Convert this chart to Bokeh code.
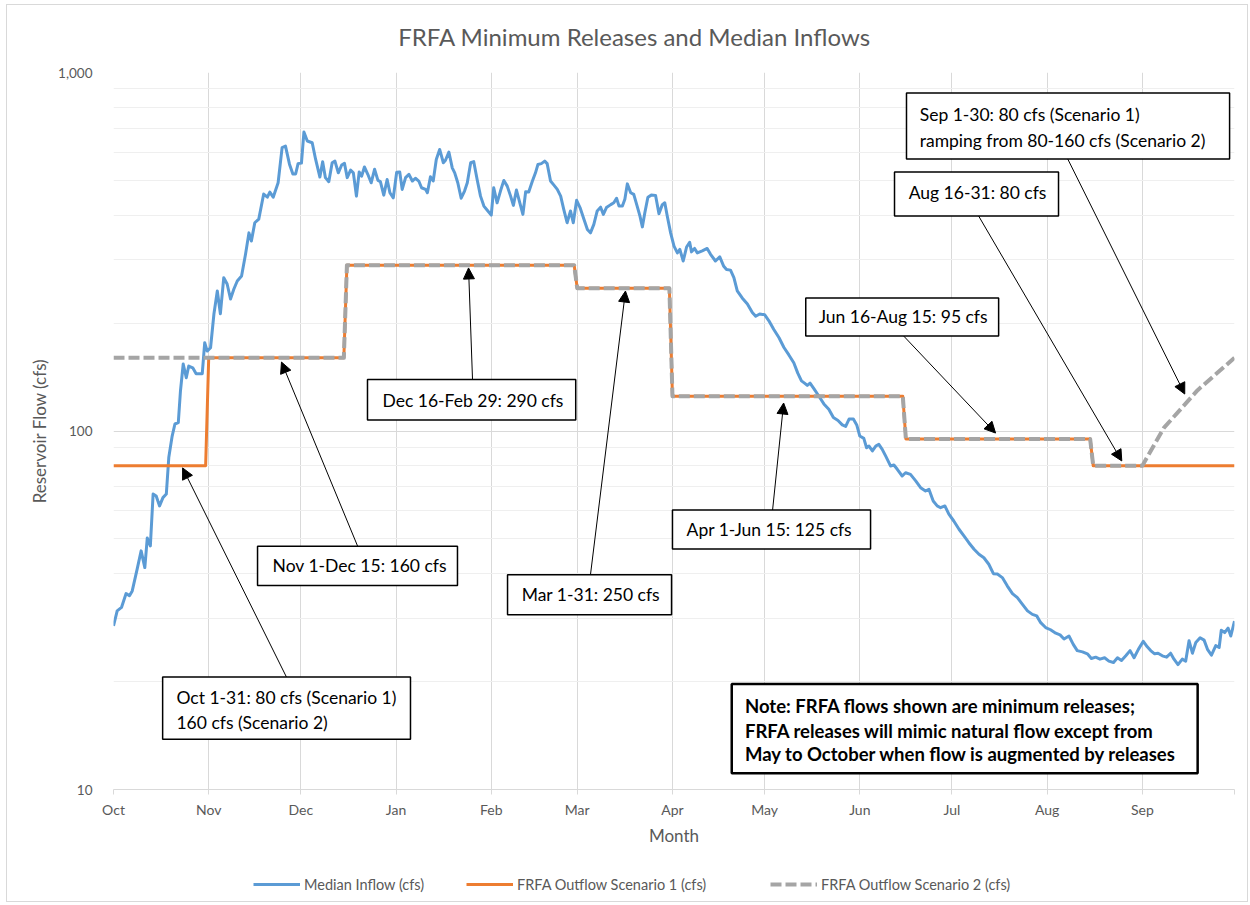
from bokeh.plotting import figure
from bokeh.layouts import column
from bokeh.models import (FixedTicker, NumeralTickFormatter, Legend, LegendItem, Label,
                          Arrow, NormalHead, Range1d)
from bokeh.embed import file_html
from bokeh.resources import INLINE

FONT = "Lato"

title_text = "FRFA Minimum Releases and Median Inflows"
month_labels = ["Oct", "Nov", "Dec", "Jan", "Feb", "Mar", "Apr", "May", "Jun", "Jul", "Aug", "Sep"]
month_start_days = [0, 31, 61, 92, 123, 151, 182, 212, 243, 273, 304, 335]
year_end_day = 365

inflow_day = [0.0, 1.2, 2.6, 4.1, 5.2, 6.1, 7.7, 9.0, 10.2, 11.0, 12.0, 12.9, 13.9, 15.0, 16.1, 17.2, 18.0, 19.1, 20.0, 21.1,
              21.8, 22.7, 23.7, 24.5, 25.8, 26.9, 28.9, 29.7, 30.5, 31.6, 32.7, 33.8, 34.8, 35.9, 37.0, 38.1, 39.2, 40.3, 41.7, 43.0,
              44.1, 44.9, 46.0, 47.3, 48.9, 50.1, 50.9, 52.0, 53.6, 54.9, 56.0, 57.3, 58.4, 59.3, 60.1, 61.2, 62.0, 63.1, 64.7, 65.8,
              67.2, 68.1, 69.0, 70.1, 71.2, 72.1, 73.2, 74.3, 75.2, 76.1, 77.2, 78.1, 79.1, 80.0, 80.8, 81.7, 82.8, 83.9, 85.0, 86.1,
              86.9, 88.0, 89.1, 90.0, 91.1, 92.2, 93.2, 94.0, 95.1, 96.2, 97.3, 98.3, 99.4, 100.3, 101.6, 102.2, 103.2, 104.1, 105.1, 106.2,
              107.4, 108.1, 109.2, 110.3, 111.1, 112.1, 113.2, 114.3, 115.2, 116.3, 117.3, 118.4, 119.5, 120.6, 121.7, 123.0, 123.8, 124.9, 126.0, 127.1,
              128.2, 129.3, 130.2, 131.2, 132.3, 133.3, 134.2, 135.2, 136.4, 137.4, 138.2, 139.3, 140.4, 141.2, 142.3, 143.4, 144.5, 145.6, 146.6, 147.7,
              148.8, 149.7, 150.8, 151.9, 153.2, 154.3, 155.3, 156.4, 157.5, 158.6, 159.5, 160.5, 161.9, 162.9, 163.8, 164.6, 165.7, 166.5, 167.3, 168.4,
              169.4, 170.5, 171.4, 172.2, 173.0, 174.0, 175.1, 176.5, 177.6, 178.7, 179.5, 180.3, 181.4,
              182.5, 183.6, 184.4, 185.5, 186.6, 187.6, 188.2, 189.2, 190.1, 191.7, 193.3, 194.4, 196.0, 197.4, 198.7, 199.6, 200.9, 202.0, 203.1, 204.7,
              206.4, 208.0, 209.1, 210.4, 212.0, 213.4, 215.0, 216.7, 218.3, 219.9, 221.5, 222.8, 224.0, 225.0, 225.9, 226.8, 228.1, 229.7, 231.3, 232.9,
              234.4, 235.9, 237.3, 238.4, 239.5, 240.9, 242.0, 243.0, 244.3, 245.2, 246.0, 247.1, 248.2, 249.2, 250.3, 251.4, 253.0,
              254.1, 255.2, 256.8, 257.9, 259.5, 261.2, 262.8, 264.4, 265.5, 266.9, 268.2, 269.3, 270.7, 272.0, 273.6, 275.3, 276.9, 278.5, 280.2, 281.8,
              283.4, 285.0, 286.5, 287.8, 289.4, 291.0, 292.7, 294.3, 295.9, 297.6, 299.2, 300.6, 301.9, 303.5, 305.1, 306.8, 308.2, 309.5, 311.1, 312.5,
              313.8, 315.5, 317.1, 318.4, 319.8, 321.2, 322.7, 324.1, 325.6, 326.9, 328.2, 329.6, 331.0, 332.3, 333.7, 335.3, 336.6, 337.7, 339.0, 340.1,
              341.5, 342.9, 344.2, 345.3, 346.6, 348.0, 349.1, 350.2, 351.3, 352.4, 353.8, 355.1, 356.2, 357.5, 358.9, 360.0, 360.7, 361.8, 362.9, 363.8,
              365.0]

inflow_cfs = [28.6, 31.5, 32.2, 35.2, 34.7, 35.8, 41.2, 46.3, 41.6, 50.3, 47.8, 66.7, 65.9, 61.8, 65.2, 66.7, 84.3, 96.8, 104.6, 105.5,
              129.3, 153.8, 140.8, 151.8, 150.1, 144.5, 144.5, 176.3, 167.1, 170.7, 212, 245.7, 212.4, 267.6, 257, 233.4, 248.9, 262, 270.5, 311.6,
              357, 338.7, 381, 390, 458, 449, 464, 449, 492.5, 617, 623, 555, 521, 521, 557, 559, 682, 644, 637, 573,
              511, 564, 509, 496, 560, 566, 525, 552, 558, 509, 534, 525, 452, 528, 514, 545, 520, 492.5, 537, 500,
              496, 455, 503, 462, 447, 527, 528, 472, 509, 520, 498, 507, 498, 477, 472, 462, 512, 498, 572, 610,
              560, 569, 600, 542, 525, 492.5, 446, 467, 492.5, 560, 564, 503, 452, 424, 413, 400, 477, 433, 467, 500,
              482, 452, 426, 470, 433, 402, 465, 464, 498, 525, 554, 557, 566, 557, 498, 485, 472, 452, 415, 381,
              411, 381, 440, 420, 389, 365, 357, 377, 411, 421, 402, 420, 428, 433, 446, 424, 424, 443, 489, 462,
              457, 424, 398, 371, 406, 449, 455, 454, 404, 428, 433, 398, 357,
              328, 314, 321, 298, 326, 336, 316, 323, 314, 318, 323, 311, 298, 306, 288, 282, 281, 268, 246, 235,
              226, 214, 209, 212, 211, 203, 192, 182, 171, 163, 155, 145, 138, 136, 134, 136, 131, 125, 119, 115,
              109, 107, 104, 103, 108, 108, 104, 96.8, 95.4, 89.8, 90.8, 88.0, 90.8, 91.8, 88.9, 85.2, 79.9,
              80.4, 78.2, 74.9, 76.5, 75.7, 72.6, 69.5, 68.0, 68.8, 63.8, 61.8, 61.1, 61.8, 58.6, 56.1, 53.2, 51.0, 48.8, 46.8, 45.3,
              44.3, 42.5, 40.0, 39.9, 39.0, 37.0, 35.2, 34.3, 32.9, 31.5, 30.8, 30.5, 29.2, 28.3, 27.9, 27.3, 27.0, 26.3, 26.8, 25.4,
              24.4, 24.2, 23.9, 23.2, 23.4, 23.1, 23.3, 22.8, 22.6, 23.3, 22.9, 23.6, 24.4, 23.3, 24.6, 25.9, 25.0, 24.4, 23.9, 24.0,
              23.6, 23.4, 24.0, 23.1, 22.3, 23.1, 22.8, 26.0, 24.0, 25.7, 26.5, 26.1, 24.6, 23.7, 25.2, 24.9, 27.8, 27.4, 28.2, 26.8,
              29.5]

# Minimum-release periods (day index from Oct 1)
period_start = [0, 31, 76, 151, 182, 258, 319]
period_end = [30, 75, 150, 181, 257, 318, 365]
scenario1_cfs = [80, 160, 290, 250, 125, 95, 80]
scenario2_cfs = [160, 160, 290, 250, 125, 95, 80]
scenario2_last_flat_end = 335
ramp_day = [335, 342, 353, 365]
ramp_cfs = [80, 102, 130, 160]

legend_labels = ["Median Inflow (cfs)", "FRFA Outflow Scenario 1 (cfs)", "FRFA Outflow Scenario 2 (cfs)"]

BLUE, ORANGE, GRAY = "#5B9BD5", "#ED7D31", "#A5A5A5"
TXT = "#595959"

# step series
s1x, s1y = [], []
for a, b, v in zip(period_start, period_end, scenario1_cfs):
    s1x += [a, b]
    s1y += [v, v]
s2x, s2y = [], []
for i, (a, b, v) in enumerate(zip(period_start, period_end, scenario2_cfs)):
    if i == len(period_start) - 1:
        b = scenario2_last_flat_end
    s2x += [a, b]
    s2y += [v, v]
s2x += ramp_day[1:]
s2y += ramp_cfs[1:]

BL, BR = 106, 13


def strip(height):
    f = figure(width=1240, height=height, output_backend="svg", toolbar_location=None,
               x_axis_location=None, y_axis_location=None,
               x_range=Range1d(0, 1), y_range=Range1d(0, 1),
               min_border_left=BL, min_border_right=BR, min_border_top=0, min_border_bottom=0,
               background_fill_color="white", border_fill_color="white")
    f.outline_line_color = None
    f.xgrid.visible = False
    f.ygrid.visible = False
    return f


# title strip
ph = strip(57)
ph.add_layout(Label(x=0.254, y=0.455, text=title_text, text_font=FONT, text_font_size="24px",
                    text_baseline="middle", text_align="left", text_color=TXT))

p = figure(width=1240, height=789, y_axis_type="log",
           x_range=Range1d(0, year_end_day), y_range=Range1d(10, 1000),
           output_backend="svg", toolbar_location=None,
           min_border_left=BL, min_border_right=BR, min_border_top=10, min_border_bottom=62,
           background_fill_color="white", border_fill_color="white")
p.outline_line_color = None

# x axis
xticks = month_start_days + [year_end_day]
p.xaxis.ticker = FixedTicker(ticks=xticks)
overrides = {d: m for d, m in zip(month_start_days, month_labels)}
overrides[year_end_day] = ""
p.xaxis.major_label_overrides = overrides
p.xaxis.axis_label = "Month"
p.xaxis.axis_label_text_font = FONT
p.xaxis.axis_label_text_font_size = "17px"
p.xaxis.axis_label_text_font_style = "normal"
p.xaxis.axis_label_text_color = TXT
p.xaxis.axis_label_standoff = 4
p.xaxis.major_label_text_font = FONT
p.xaxis.major_label_text_font_size = "14px"
p.xaxis.major_label_text_color = TXT
p.xaxis.major_label_standoff = 6
p.xaxis.axis_line_color = "#d9d9d9"
p.xaxis.major_tick_line_color = "#d9d9d9"
p.xaxis.major_tick_out = 5
p.xaxis.major_tick_in = 0
p.xaxis.minor_tick_line_color = None
p.xgrid.ticker = FixedTicker(ticks=xticks)
p.xgrid.grid_line_color = "#d9d9d9"

# y axis
minor = [20, 30, 40, 50, 60, 70, 80, 90, 200, 300, 400, 500, 600, 700, 800, 900]
p.yaxis.ticker = FixedTicker(ticks=[10, 100, 1000], minor_ticks=minor)
p.yaxis.formatter = NumeralTickFormatter(format="0,0")
p.yaxis.axis_label = "Reservoir Flow (cfs)"
p.yaxis.axis_label_text_font = FONT
p.yaxis.axis_label_text_font_size = "17px"
p.yaxis.axis_label_text_font_style = "normal"
p.yaxis.axis_label_text_color = TXT
p.yaxis.axis_label_standoff = 5
p.yaxis.major_label_text_font = FONT
p.yaxis.major_label_text_font_size = "13.5px"
p.yaxis.major_label_text_color = TXT
p.yaxis.major_label_standoff = 15
p.yaxis.axis_line_color = None
p.yaxis.major_tick_line_color = None
p.yaxis.minor_tick_line_color = None
p.ygrid.grid_line_color = "#d9d9d9"
p.ygrid.minor_grid_line_color = "#efefef"

p.line(inflow_day, inflow_cfs, line_color=BLUE, line_width=3, line_join="round")
p.line(s1x, s1y, line_color=ORANGE, line_width=3, line_join="round")
p.line(s2x, s2y, line_color=GRAY, line_width=4, line_dash="11 4", line_join="round")

# annotation boxes: (left day, right day, bottom cfs, top cfs, border width)
boxes = [
    (82.7, 150.5, 107.3, 139.1, 1.5),
    (46.9, 112.0, 37.1, 47.7, 1.5),
    (16.0, 96.7, 13.8, 20.6, 1.5),
    (128.3, 181.7, 30.7, 39.7, 1.5),
    (182.0, 246.5, 46.9, 60.2, 1.5),
    (225.4, 288.2, 184.0, 235.0, 1.5),
    (254.3, 307.7, 397.7, 527.4, 1.5),
    (258.2, 363.4, 573.9, 876.7, 1.5),
    (201.3, 353.0, 11.1, 19.7, 2.5),
]
for l, r, b, t, w in boxes:
    p.quad(left=[l], right=[r], bottom=[b], top=[t], fill_color="white",
           line_color="black", line_width=w)

texts = [
    (87.6, 122.0, "Dec 16-Feb 29: 290 cfs"),
    (51.8, 42.1, "Nov 1-Dec 15: 160 cfs"),
    (20.5, 18.0, "Oct 1-31: 80 cfs (Scenario 1)"),
    (20.5, 15.4, "160 cfs (Scenario 2)"),
    (132.9, 35.0, "Mar 1-31: 250 cfs"),
    (186.6, 53.1, "Apr 1-Jun 15: 125 cfs"),
    (229.6, 208.1, "Jun 16-Aug 15: 95 cfs"),
    (258.9, 461.3, "Aug 16-31: 80 cfs"),
    (262.5, 766.0, "Sep 1-30: 80 cfs (Scenario 1)"),
    (262.5, 648.0, "ramping from 80-160 cfs (Scenario 2)"),
]
for x, y, t in texts:
    p.add_layout(Label(x=x, y=y, text=t, text_font=FONT, text_font_size="17.5px",
                       text_baseline="middle", text_align="left", text_color="black"))

note_lines = [
    (205.6, 17.1, "Note: FRFA flows shown are minimum releases;"),
    (205.6, 14.6, "FRFA releases will mimic natural flow except from"),
    (205.6, 12.6, "May to October when flow is augmented by releases"),
]
for x, y, t in note_lines:
    p.add_layout(Label(x=x, y=y, text=t, text_font=FONT, text_font_size="18.5px",
                       text_font_style="bold", text_baseline="middle", text_align="left",
                       text_color="black"))

# arrows: (start day, start cfs, tip day, tip cfs)
arrows = [
    (116.9, 139.1, 115.6, 285.0),
    (79.5, 47.7, 54.7, 155.7),
    (56.3, 20.6, 22.5, 78.9),
    (155.3, 39.7, 166.7, 245.7),
    (214.6, 60.2, 218.2, 119.7),
    (257.3, 184.0, 287.2, 98.7),
    (281.7, 397.7, 328.3, 82.5),
    (310.7, 573.9, 348.8, 126.8),
]
for xs, ys, xe, ye in arrows:
    p.add_layout(Arrow(end=NormalHead(size=11, fill_color="black", line_color="black", line_width=1),
                       x_start=xs, y_start=ys, x_end=xe, y_end=ye,
                       line_color="black", line_width=1))

# legend strip below the chart (sample renderers sit outside the visible range)
pl = strip(50)
lr_in = pl.line([5, 6], [5, 5], line_color=BLUE, line_width=3)
lr_1 = pl.line([5, 6], [5, 5], line_color=ORANGE, line_width=3)
lr_2 = pl.line([5, 6], [5, 5], line_color=GRAY, line_width=4, line_dash="11 4")
legend_x = [140, 353, 657]
for lab, rend, lx in zip(legend_labels, [lr_in, lr_1, lr_2], legend_x):
    pl.add_layout(Legend(items=[LegendItem(label=lab, renderers=[rend])],
                         orientation="horizontal", location=(lx, 7),
                         border_line_color=None, background_fill_alpha=0,
                         label_text_font=FONT, label_text_font_size="14.5px", label_text_color=TXT,
                         glyph_width=47, glyph_height=20, label_standoff=4,
                         padding=0, margin=0))

layout = column(ph, p, pl, spacing=0)
layout.styles = {"border": "1px solid #d9d9d9", "margin-left": "6px", "margin-top": "4px"}

open("out.html", "w").write(file_html(layout, INLINE))
